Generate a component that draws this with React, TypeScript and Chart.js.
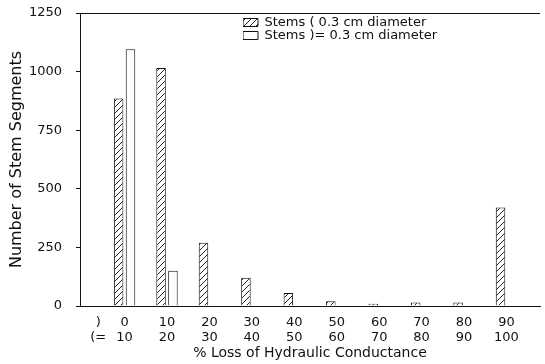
import React, { useEffect, useRef } from 'react';
import { Chart, registerables } from 'chart.js';

Chart.register(...registerables);

// ---- data ----
const lowerBounds = ['0', '10', '20', '30', '40', '50', '60', '70', '80', '90'];
const upperBounds = ['10', '20', '30', '40', '50', '60', '70', '80', '90', '100'];
const headerLabel = [')', '(='];
const thinStems = [885, 1015, 270, 120, 55, 20, 10, 15, 15, 420];
const thickStems = [1095, 150, 0, 0, 0, 0, 0, 0, 0, 0];
const yTickValues = [0, 250, 500, 750, 1000, 1250];
const seriesNames = ['Stems ( 0.3 cm diameter', 'Stems )= 0.3 cm diameter'];
const yTitle = 'Number of Stem Segments';
const xTitle = '% Loss of Hydraulic Conductance';

const HEADER_POS = -0.62;
const FAMILY = '"DejaVu Sans", sans-serif';
const FONT = { family: FAMILY, size: 13, lineHeight: 1.15 };
const INK = '#111';
// group width as a fraction of one category step, corrected for the header tick gap
const GROUP_FRACTION = 0.56 / Math.abs(HEADER_POS);

function makeHatch(): CanvasPattern | string {
  const c = document.createElement('canvas');
  c.width = 6;
  c.height = 6;
  const g = c.getContext('2d');
  if (!g) return '#fff';
  g.fillStyle = '#fff';
  g.fillRect(0, 0, 6, 6);
  g.strokeStyle = '#222';
  g.lineWidth = 1;
  g.beginPath();
  g.moveTo(0, 6);
  g.lineTo(6, 0);
  g.moveTo(-1, 1);
  g.lineTo(1, -1);
  g.moveTo(5, 7);
  g.lineTo(7, 5);
  g.stroke();
  return g.createPattern(c, 'repeat') || '#fff';
}

// place the (vertical) legend inside the plot, under the top frame line
const legendPlace = {
  id: 'legendPlace',
  afterLayout(chart: any) {
    const lg = chart.legend;
    if (!lg) return;
    const w = lg.right - lg.left;
    const h = lg.bottom - lg.top;
    lg.left = chart.chartArea.left + 163;
    lg.right = lg.left + w;
    lg.top = 16;
    lg.bottom = lg.top + h;
  },
};

export default function App() {
  const ref = useRef<HTMLCanvasElement | null>(null);

  useEffect(() => {
    if (!ref.current) return;
    const hatch = makeHatch();
    const positions = lowerBounds.map((_, i) => i);
    const chart = new Chart(ref.current, {
      type: 'bar',
      data: {
        datasets: [
          {
            label: seriesNames[0],
            data: thinStems.map((v, i) => ({ x: positions[i], y: v })),
            backgroundColor: hatch as any,
            borderColor: INK,
            borderWidth: 1,
            categoryPercentage: GROUP_FRACTION,
            barPercentage: 0.8,
          },
          {
            label: seriesNames[1],
            data: thickStems.map((v, i) => ({ x: positions[i], y: v })),
            backgroundColor: '#fff',
            borderColor: INK,
            borderWidth: 1,
            categoryPercentage: GROUP_FRACTION,
            barPercentage: 0.8,
          },
        ],
      },
      options: {
        animation: false,
        responsive: true,
        maintainAspectRatio: false,
        layout: { padding: { left: 0, top: 13, right: 5, bottom: 0 } },
        plugins: {
          tooltip: { enabled: false },
          legend: {
            position: 'chartArea' as any,
            align: 'start',
            fullSize: false,
            labels: {
              boxWidth: 15,
              boxHeight: 8,
              padding: 0,
              color: INK,
              font: { family: FAMILY, size: 13, lineHeight: 1.0 },
            },
          },
        },
        scales: {
          x: {
            type: 'linear',
            min: -1.05,
            max: 9.79,
            offset: false,
            afterBuildTicks: (scale: any) => {
              scale.ticks = [{ value: HEADER_POS }, ...positions.map((v) => ({ value: v }))];
            },
            afterFit: (scale: any) => {
              scale.height = 58;
            },
            grid: { display: true, drawOnChartArea: false, drawTicks: false, offset: false },
            border: { display: true, color: INK, width: 1 },
            ticks: {
              autoSkip: false,
              maxRotation: 0,
              minRotation: 0,
              padding: 9,
              color: INK,
              font: FONT,
              callback: (value: any) => {
                const v = Number(value);
                if (v < 0) return headerLabel;
                const i = Math.round(v);
                return [lowerBounds[i], upperBounds[i]];
              },
            },
            title: {
              display: true,
              text: xTitle,
              color: INK,
              font: { family: FAMILY, size: 14, lineHeight: 1.15 },
              padding: { top: 0, bottom: 3 },
            },
          },
          y: {
            min: 0,
            max: 1250,
            afterBuildTicks: (scale: any) => {
              scale.ticks = yTickValues.map((v) => ({ value: v }));
            },
            afterFit: (scale: any) => {
              scale.width = 80;
              scale.paddingTop = 7;
              scale.paddingBottom = 7;
            },
            grid: {
              display: true,
              drawOnChartArea: true,
              drawTicks: true,
              tickLength: 4,
              tickColor: INK,
              color: (ctx: any) => (ctx.tick && ctx.tick.value === 1250 ? INK : 'rgba(0,0,0,0)'),
            },
            border: { display: true, color: INK, width: 1 },
            ticks: {
              padding: 14,
              color: INK,
              font: FONT,
              callback: (value: any) => String(value),
            },
            title: {
              display: true,
              text: yTitle,
              color: INK,
              font: { family: FAMILY, size: 16, lineHeight: 1.15 },
              padding: { top: 8, bottom: 0 },
            },
          },
        },
      },
      plugins: [legendPlace],
    });
    return () => chart.destroy();
  }, []);

  return (
    <div style={{ position: 'fixed', left: 0, top: 0, width: 545, height: 364, background: '#fff' }}>
      <canvas ref={ref} style={{ display: 'block' }} />
    </div>
  );
}
